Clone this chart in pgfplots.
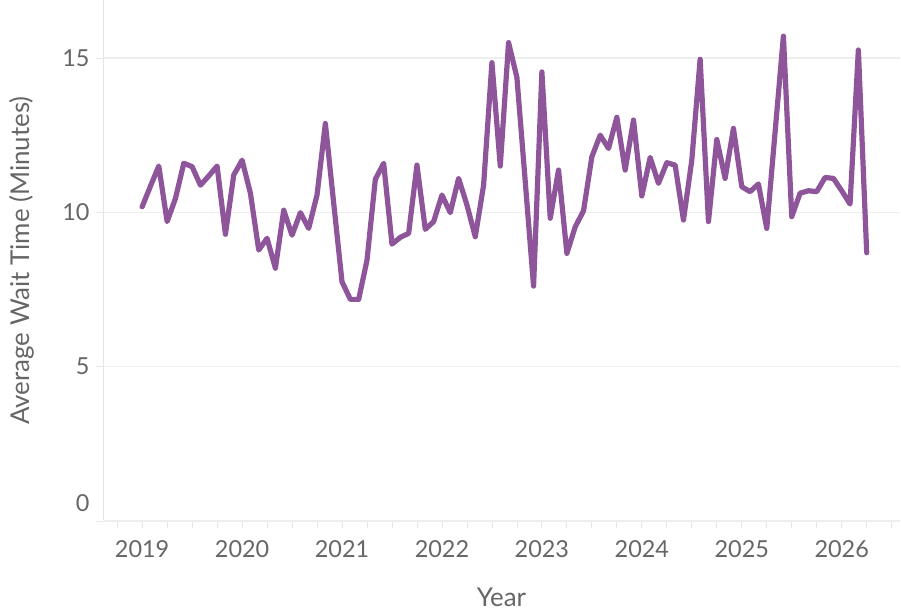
\documentclass[border=0pt]{standalone}
\usepackage{pgfplots}
\pgfplotsset{compat=1.18}
\usepackage{fontspec}
\setmainfont{Lato}
\definecolor{linepurple}{RGB}{142,85,155}
\definecolor{txtgray}{RGB}{102,102,102}
\definecolor{gridgray}{RGB}{238,238,238}
\definecolor{axgray}{RGB}{230,230,230}
\begin{document}
\begin{tikzpicture}
\path[use as bounding box] (-103bp,-92bp) rectangle (798bp,521bp);
\begin{axis}[
  at={(0,0)}, anchor=south west,
  scale only axis, width=797bp, height=521bp,
  xmin=-4.7, xmax=91.0, ymin=0, ymax=16.88,
  xtick={0,12,24,36,48,60,72,84},
  xticklabels={2019,2020,2021,2022,2023,2024,2025,2026},
  minor xtick={-3,3,6,9,15,18,21,27,30,33,39,42,45,51,54,57,63,66,69,75,78,81,87,90},
  ytick={5,10,15},
  extra y ticks={0},
  extra y tick style={yticklabel style={yshift=18bp}},
  axis x line*=bottom, axis y line*=left,
  axis line style={draw=axgray, line width=0.8bp},
  x axis line style={-}, y axis line style={-},
  tick align=outside,
  major tick length=7bp, minor tick length=7bp,
  tick style={draw=axgray, line width=0.8bp},
  ymajorgrids, grid style={draw=gridgray, line width=1.2bp},
  tick label style={font=\fontsize{23.5}{26}\selectfont, text=txtgray},
  /pgf/number format/assume math mode=true,
  xticklabel style={yshift=-9bp},
  yticklabel style={xshift=-3bp},
  xlabel={Year}, ylabel={Average Wait Time (Minutes)},
  label style={font=\fontsize{26}{30}\selectfont, text=txtgray},
  xlabel style={at={(axis description cs:0.5,-0.1459)}, anchor=center},
  ylabel style={at={(axis description cs:-0.1016,0.5)}, anchor=center},
  clip=false,
]
\addplot[color=linepurple, line width=5.2bp, line join=round, line cap=round] coordinates {
(0,10.18) (1,10.85) (2,11.50) (3,9.70) (4,10.45) (5,11.59) (6,11.48) (7,10.88)
(8,11.18) (9,11.50) (10,9.29) (11,11.21) (12,11.69) (13,10.62) (14,8.78) (15,9.16)
(16,8.19) (17,10.07) (18,9.26) (19,9.99) (20,9.48) (21,10.56) (22,12.88) (23,10.30)
(24,7.75) (25,7.18) (26,7.18) (27,8.45) (28,11.07) (29,11.59) (30,8.97) (31,9.19)
(32,9.32) (33,11.53) (34,9.45) (35,9.70) (36,10.56) (37,9.99) (38,11.10) (39,10.24)
(40,9.21) (41,10.88) (42,14.85) (43,11.50) (44,15.50) (45,14.37) (46,11.00) (47,7.61)
(48,14.55) (49,9.81) (50,11.37) (51,8.67) (52,9.53) (53,10.05) (54,11.80) (55,12.50)
(56,12.07) (57,13.08) (58,11.37) (59,12.99) (60,10.53) (61,11.78) (62,10.94) (63,11.61)
(64,11.53) (65,9.75) (66,11.69) (67,14.96) (68,9.70) (69,12.36) (70,11.10) (71,12.72)
(72,10.83) (73,10.67) (74,10.92) (75,9.48) (76,12.60) (77,15.71) (78,9.86) (79,10.62)
(80,10.70) (81,10.67) (82,11.13) (83,11.10) (84,10.70) (85,10.27) (86,15.26) (87,8.69)
};
\end{axis}
\end{tikzpicture}
\end{document}
